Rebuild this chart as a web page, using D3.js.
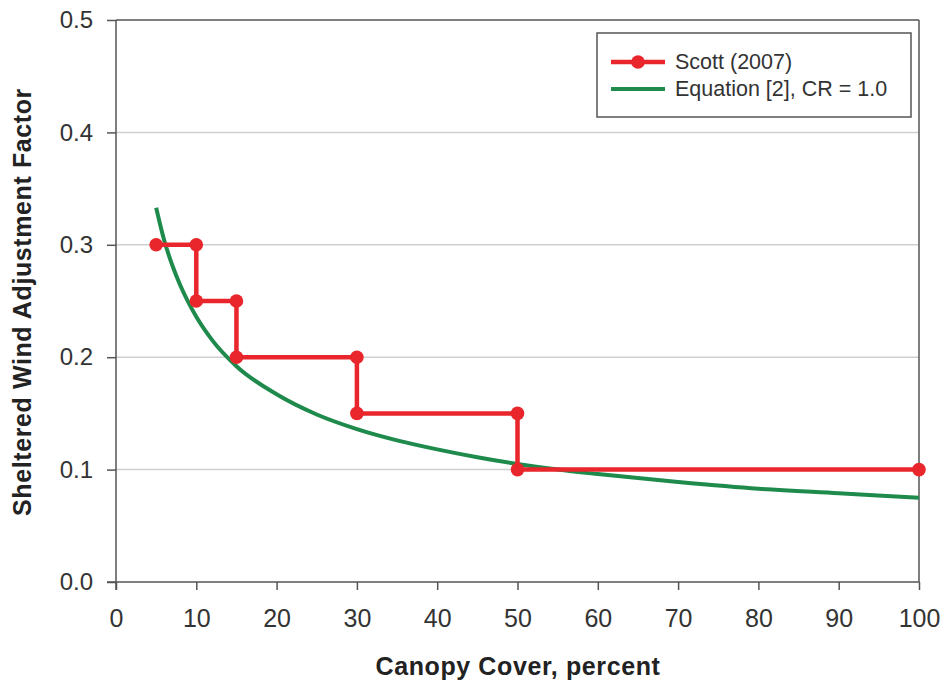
<!DOCTYPE html>
<html>
<head>
<meta charset="utf-8">
<script src="https://cdn.jsdelivr.net/npm/d3@7"></script>
<style>
  html, body { margin: 0; padding: 0; background: #fff; }
  svg { display: block; font-family: "Liberation Sans", Arial, sans-serif; }
</style>
</head>
<body>
<svg id="chart" width="945" height="683"></svg>
<script>
// Scott (2007) step values: canopy cover (%) vs sheltered WAF
const scottCover = [5, 10, 10, 15, 15, 30, 30, 50, 50, 100];
const scottWaf   = [0.30, 0.30, 0.25, 0.25, 0.20, 0.20, 0.15, 0.15, 0.10, 0.10];

// Equation [2], CR = 1.0
const eqCover = [5, 6, 7, 8, 9, 10, 12, 15, 20, 25, 30, 35, 40, 45, 50, 55, 60, 70, 80, 90, 100];
const eqWaf   = [0.333, 0.304, 0.282, 0.264, 0.249, 0.236, 0.215, 0.192, 0.167, 0.149, 0.136,
                 0.126, 0.118, 0.111, 0.105, 0.100, 0.096, 0.089, 0.083, 0.079, 0.075];

const xTicks = [0, 10, 20, 30, 40, 50, 60, 70, 80, 90, 100];
const yTicks = [0.0, 0.1, 0.2, 0.3, 0.4, 0.5];

const legendLabels = ["Scott (2007)", "Equation [2], CR = 1.0"];
const RED = "#e8262b", GREEN = "#1e8a4c";

const svg = d3.select("#chart");
const L = 116, R = 919, T = 20, B = 582;

const x = d3.scaleLinear().domain([0, 100]).range([L, R]);
const y = d3.scaleLinear().domain([0, 0.5]).range([B, T]);

// gridlines
svg.append("g").selectAll("line")
  .data(yTicks.filter(v => v > 0 && v < 0.5))
  .join("line")
  .attr("x1", L).attr("x2", R)
  .attr("y1", d => y(d)).attr("y2", d => y(d))
  .attr("stroke", "#cfcfcf").attr("stroke-width", 1.5);

// frame: top and right
svg.append("line").attr("x1", L).attr("x2", R).attr("y1", T).attr("y2", T)
  .attr("stroke", "#555").attr("stroke-width", 1.5);
svg.append("line").attr("x1", R).attr("x2", R).attr("y1", T).attr("y2", B)
  .attr("stroke", "#555").attr("stroke-width", 1.5);

// axes
const xAxis = svg.append("g").attr("transform", `translate(0,${B})`)
  .call(d3.axisBottom(x).tickValues(xTicks).tickSize(8).tickPadding(19).tickFormat(d3.format("d")));
const yAxis = svg.append("g").attr("transform", `translate(${L},0)`)
  .call(d3.axisLeft(y).tickValues(yTicks).tickSize(9).tickPadding(14).tickFormat(d3.format(".1f")));

[xAxis, yAxis].forEach(g => {
  g.select(".domain").remove();
  g.selectAll(".tick line").attr("stroke", "#555").attr("stroke-width", 1.5);
  g.selectAll(".tick text").attr("fill", "#333");
});
xAxis.selectAll(".tick text").style("font-size", "25px");
yAxis.selectAll(".tick text").style("font-size", "24px");

// axis lines (extend slightly past the origin)
svg.append("line").attr("x1", L - 9).attr("x2", R).attr("y1", B).attr("y2", B)
  .attr("stroke", "#555").attr("stroke-width", 1.5);
svg.append("line").attr("x1", L).attr("x2", L).attr("y1", T).attr("y2", B + 8)
  .attr("stroke", "#555").attr("stroke-width", 1.5);

// equation curve
const eqData = eqCover.map((c, i) => [c, eqWaf[i]]);
svg.append("path").datum(eqData)
  .attr("fill", "none").attr("stroke", GREEN).attr("stroke-width", 4)
  .attr("d", d3.line().x(d => x(d[0])).y(d => y(d[1])).curve(d3.curveMonotoneX));

// Scott step series
const scottData = scottCover.map((c, i) => [c, scottWaf[i]]);
svg.append("path").datum(scottData)
  .attr("fill", "none").attr("stroke", RED).attr("stroke-width", 4.5)
  .attr("d", d3.line().x(d => x(d[0])).y(d => y(d[1])));
svg.append("g").selectAll("circle").data(scottData).join("circle")
  .attr("cx", d => x(d[0])).attr("cy", d => y(d[1])).attr("r", 6.8).attr("fill", RED);

// axis titles
svg.append("text").attr("x", 518).attr("y", 675).attr("text-anchor", "middle")
  .style("font-size", "25px").style("font-weight", "bold").style("letter-spacing", "0.6px")
  .attr("fill", "#222")
  .text("Canopy Cover, percent");
svg.append("text").attr("transform", "translate(31,302) rotate(-90)").attr("text-anchor", "middle")
  .style("font-size", "25px").style("font-weight", "bold").style("letter-spacing", "0.6px")
  .attr("fill", "#222")
  .text("Sheltered Wind Adjustment Factor");

// legend
const lg = svg.append("g");
lg.append("rect").attr("x", 597).attr("y", 33).attr("width", 314).attr("height", 84)
  .attr("fill", "#fff").attr("stroke", "#555").attr("stroke-width", 1.5);
const rows = [62, 89];
lg.append("line").attr("x1", 611).attr("x2", 665).attr("y1", rows[0]).attr("y2", rows[0])
  .attr("stroke", RED).attr("stroke-width", 4.5);
lg.append("circle").attr("cx", 638).attr("cy", rows[0]).attr("r", 6.8).attr("fill", RED);
lg.append("line").attr("x1", 611).attr("x2", 665).attr("y1", rows[1]).attr("y2", rows[1])
  .attr("stroke", GREEN).attr("stroke-width", 4);
lg.selectAll("text").data(legendLabels).join("text")
  .attr("x", 675).attr("y", (d, i) => rows[i] + 7)
  .style("font-size", "21.5px").attr("fill", "#333").text(d => d);
</script>
</body>
</html>
